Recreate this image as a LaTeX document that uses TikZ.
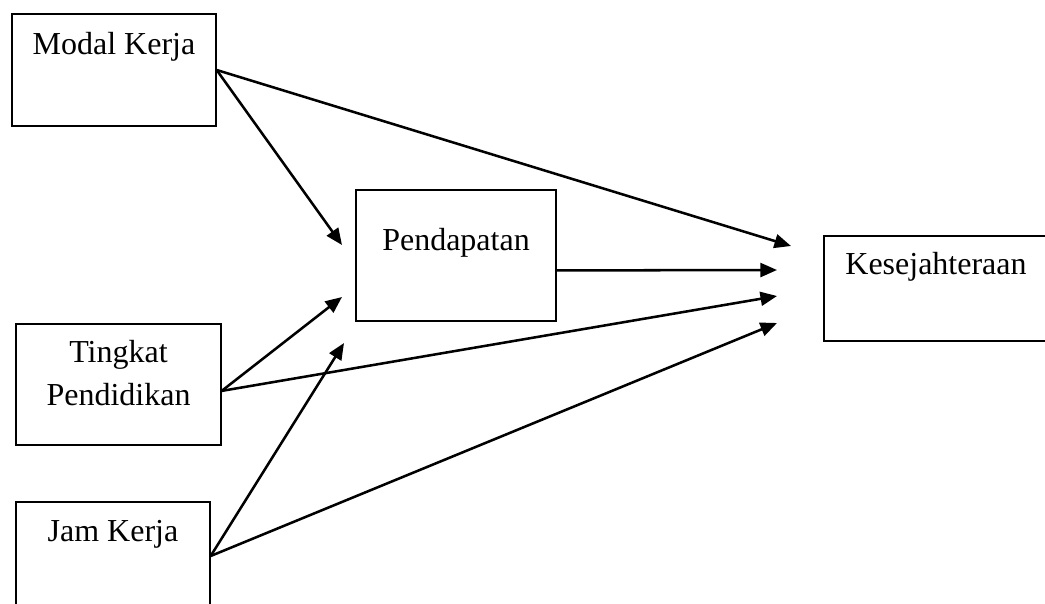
\documentclass[tikz,border=0pt]{standalone}
\usepackage{fontspec}
\setmainfont{Liberation Serif}
\usetikzlibrary{positioning, arrows.meta}

\begin{document}
\begin{tikzpicture}[x=0.375pt,y=-0.375pt,>={Triangle[length=6.2pt,width=5.2pt]},line width=0.95pt,
    box node/.style={draw,line width=0.5pt,rectangle,inner sep=0pt},
    box text/.style={anchor=base,inner sep=0pt,align=center,font=\fontsize{12}{16.1}\selectfont}]

\useasboundingbox (0,0) rectangle (1045,603);

\node[box node,minimum width=76.5pt,minimum height=42pt,label={[box text,yshift=-15.4pt]north:Modal Kerja}]     (modal)  at (114,70)    {};
\node[box node,minimum width=75pt,minimum height=49.1pt,label={[box text,yshift=-22.9pt]north:Pendapatan}]      (pend)   at (456,255.5) {};
\node[box node,minimum width=84pt,minimum height=39.4pt,label={[box text,yshift=-14.6pt]north:Kesejahteraan}]   (sejah)  at (936,288.5) {};
\node[box node,minimum width=76.9pt,minimum height=45.4pt,label={[box text,yshift=-30.7pt]north:Tingkat\\Pendidikan}] (didik) at (118.5,384.5) {};
\node[box node,minimum width=72.75pt,minimum height=40.5pt,label={[box text,yshift=-15pt]north:Jam Kerja}]      (jam)    at (113,556)   {};

% ujung panah
\coordinate (t1) at (791,246);
\coordinate (t2) at (342,245);
\coordinate (t3) at (777,270);
\coordinate (t4) at (342,297);
\coordinate (t5) at (777,296);
\coordinate (t6) at (344,343);
\coordinate (t7) at (777,323);

\path[->]
(modal.east) edge (t1)
(modal.east) edge (t2)
([yshift=-5.6pt]pend.east) edge (t3)
([yshift=-2.4pt]didik.east) edge (t4)
([yshift=-2.4pt]didik.east) edge (t5)
(jam.east) edge (t6)
(jam.east) edge (t7);
\end{tikzpicture}
\end{document}
